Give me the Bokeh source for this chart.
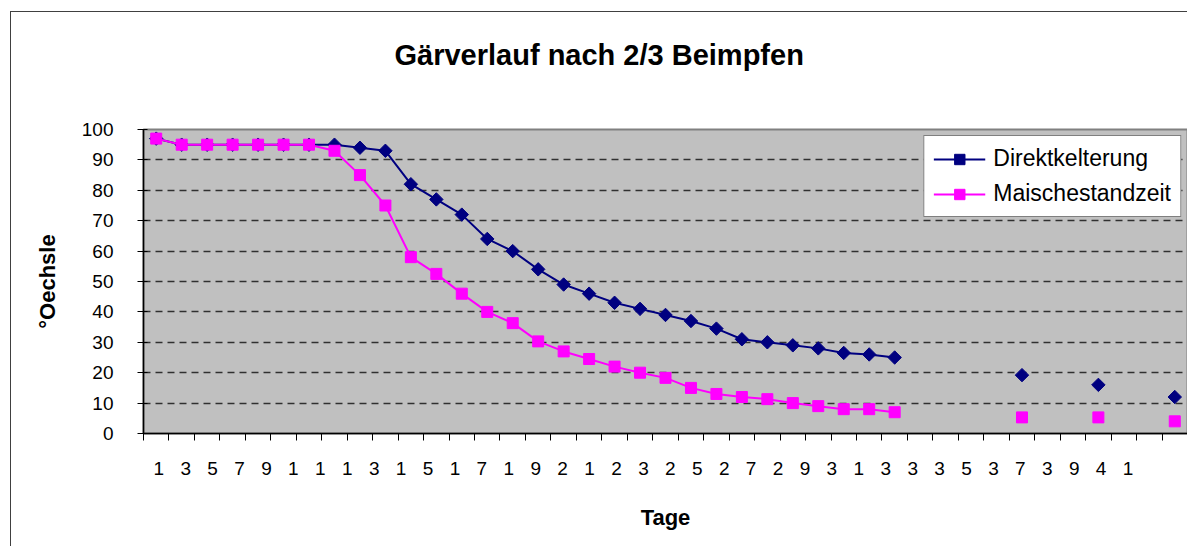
import math
from bokeh.plotting import figure
from bokeh.models import Range1d, FixedTicker, Legend, LegendItem, ColumnDataSource, Title
from bokeh.embed import file_html
from bokeh.resources import INLINE

nan = float("nan")

# x-axis tick labels as shown (truncated day labels)
tick_labels = ["1", "3", "5", "7", "9", "1", "1", "1", "3", "1", "5", "1", "7", "1", "9",
               "2", "1", "2", "3", "2", "5", "2", "7", "2", "9", "3", "1", "3", "3", "3",
               "5", "3", "7", "3", "9", "4", "1"]

# °Oechsle values per day category (41 categories, gaps = not measured)
direkt = [97, 95, 95, 95, 95, 95, 95, 95, 94, 93, 82, 77, 72, 64, 60, 54, 49, 46, 43, 41,
          39, 37, 34.5, 31, 30, 29, 28, 26.5, 26, 25, nan, nan, nan, nan, 19.2, nan, nan,
          16, nan, nan, 12]
maische = [97, 95, 95, 95, 95, 95, 95, 93, 85, 75, 58, 52.5, 46, 40, 36.3, 30.3, 27, 24.5,
           22, 20, 18.3, 15, 13, 12, 11.3, 10, 9, 8, 8, 7, nan, nan, nan, nan, 5.3, nan,
           nan, 5.3, nan, nan, 4]

series_names = ["Direktkelterung", "Maischestandzeit"]
title_text = "Gärverlauf nach 2/3 Beimpfen"
x_title = "Tage"
y_title = "°Oechsle"

n_cat = len(direkt)
x = [i + 0.5 for i in range(n_cat)]
src = ColumnDataSource(dict(x=x, direkt=direkt, maische=maische))

FONT = "Liberation Sans"

p = figure(width=1177, height=535, output_backend="svg", toolbar_location=None,
           x_range=Range1d(0, n_cat), y_range=Range1d(0, 100),
           min_border_left=132, min_border_right=1, min_border_top=117,
           min_border_bottom=114,
           background_fill_color="#C0C0C0", border_fill_color="white")

p.margin = (11, 0, 0, 10)
p.styles = {"border-top": "1px solid #404040", "border-left": "1px solid #404040"}

# spacer between title and plot area
p.add_layout(Title(text=" ", text_font_size="1px", standoff=56), "above")

p.title.text = title_text
p.title.align = "left"
p.title.text_font = FONT
p.title.text_font_size = "29px"
p.title.text_font_style = "bold"
p.title.text_color = "black"
p.title.offset = 251
p.title.standoff = 0

p.outline_line_color = "#808080"
p.outline_line_width = 2

# y axis
p.yaxis.ticker = FixedTicker(ticks=list(range(0, 101, 10)))
p.yaxis.major_tick_in = 4
p.yaxis.major_tick_out = 6
p.yaxis.minor_tick_line_color = None
p.yaxis.axis_line_color = "black"
p.yaxis.axis_line_width = 1.5
p.yaxis.major_tick_line_color = "black"
p.yaxis.major_label_text_font = FONT
p.yaxis.major_label_text_font_size = "19px"
p.yaxis.major_label_text_color = "black"
p.yaxis.major_label_standoff = 24
p.yaxis.axis_label = y_title
p.yaxis.axis_label_text_font = FONT
p.yaxis.axis_label_text_font_size = "22px"
p.yaxis.axis_label_text_font_style = "bold"
p.yaxis.axis_label_text_color = "black"
p.yaxis.axis_label_standoff = 19

# x axis: tick marks at category boundaries, labels at their own spacing
label_first = 0.6
label_step = 1.0574
label_pos = [round(label_first + i * label_step, 4) for i in range(len(tick_labels))]
p.xaxis.ticker = FixedTicker(ticks=label_pos, minor_ticks=list(range(n_cat + 1)))
p.xaxis.major_label_overrides = {pos: lab for pos, lab in zip(label_pos, tick_labels)}
p.xaxis.major_tick_in = 0
p.xaxis.major_tick_out = 0
p.xaxis.minor_tick_in = 0
p.xaxis.minor_tick_out = 7
p.xaxis.minor_tick_line_color = "black"
p.xaxis.minor_tick_line_width = 1
p.xaxis.axis_line_color = "black"
p.xaxis.axis_line_width = 1.5
p.xaxis.major_label_text_font = FONT
p.xaxis.major_label_text_font_size = "19px"
p.xaxis.major_label_text_color = "black"
p.xaxis.major_label_standoff = 21
p.xaxis.axis_label = x_title
p.xaxis.axis_label_text_font = FONT
p.xaxis.axis_label_text_font_size = "22px"
p.xaxis.axis_label_text_font_style = "bold"
p.xaxis.axis_label_text_color = "black"
p.xaxis.axis_label_standoff = 27

p.xgrid.visible = False
p.ygrid.grid_line_color = "#303030"
p.ygrid.grid_line_dash = "7 5"
p.ygrid.grid_line_width = 1.5

l1 = p.line("x", "direkt", source=src, line_color="#000080", line_width=2)
s1 = p.scatter("x", "direkt", source=src, marker="square", angle=math.pi / 4, size=9.5,
               fill_color="#000080", line_color="#000080")
l2 = p.line("x", "maische", source=src, line_color="#FF00FF", line_width=2)
s2 = p.scatter("x", "maische", source=src, marker="square", size=11,
               fill_color="#FF00FF", line_color="#FF00FF")

legend = Legend(items=[LegendItem(label=series_names[0], renderers=[l1, s1]),
                       LegendItem(label=series_names[1], renderers=[l2, s2])],
                location="top_right")
legend.border_line_color = "black"
legend.border_line_width = 1.5
legend.background_fill_color = "white"
legend.background_fill_alpha = 1
legend.label_text_font = FONT
legend.label_text_font_size = "23px"
legend.label_text_color = "black"
legend.glyph_width = 52
legend.glyph_height = 26
legend.label_height = 26
legend.spacing = 8
legend.padding = 9
legend.margin = 6
legend.label_standoff = 8
p.add_layout(legend)

open("out.html", "w").write(file_html(p, INLINE))
